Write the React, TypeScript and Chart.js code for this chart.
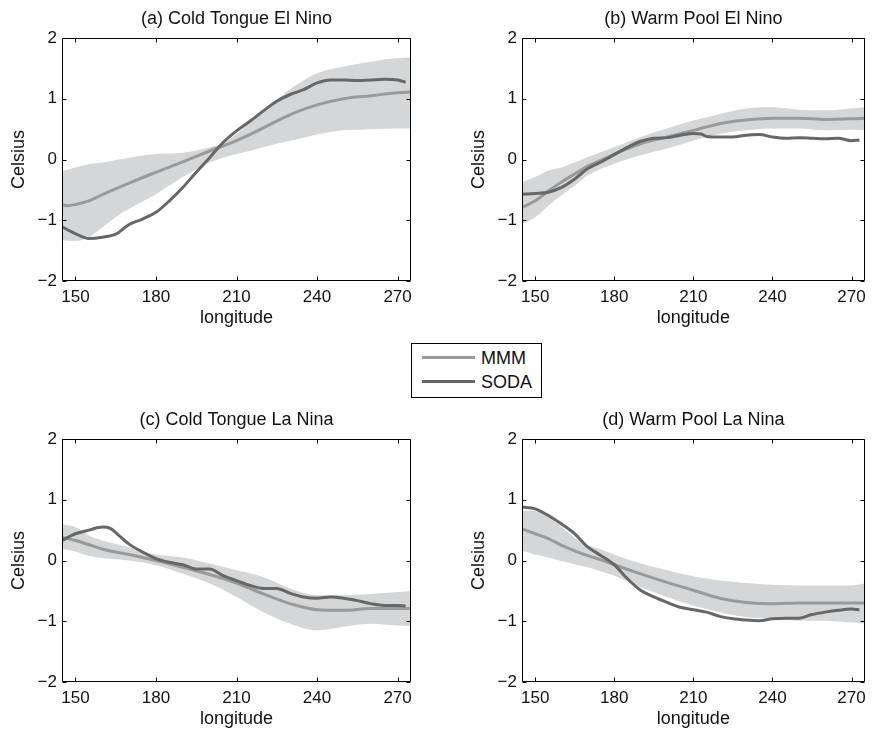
import React, { useEffect, useRef } from "react";
import { Chart, registerables } from "chart.js";

Chart.register(...registerables);

// ---- axes ----
const xTicks = [150, 180, 210, 240, 270];
const yTicks = [-2, -1, 0, 1, 2];
const X_MIN = 145;
const X_MAX = 275;
const Y_MIN = -2;
const Y_MAX = 2;

// ---- (a) Cold Tongue El Nino ----
const aMmmLon = [145, 147, 150, 155, 160, 170, 180, 190, 200, 210, 220, 230, 240, 250, 260, 270, 275];
const aMmm = [-0.74, -0.76, -0.74, -0.68, -0.58, -0.39, -0.21, -0.04, 0.14, 0.31, 0.52, 0.74, 0.9, 1.0, 1.05, 1.1, 1.11];
const aSodaLon = [145, 150, 155, 160, 165, 170, 175, 180, 185, 190, 195, 200, 205, 210, 215, 220, 225, 230, 235, 240, 245, 250, 255, 260, 265, 270, 273];
const aSoda = [-1.11, -1.22, -1.3, -1.28, -1.23, -1.07, -0.98, -0.87, -0.68, -0.46, -0.21, 0.03, 0.28, 0.47, 0.63, 0.8, 0.96, 1.07, 1.15, 1.26, 1.31, 1.31, 1.3, 1.31, 1.32, 1.31, 1.27];
const aBandLon = [145, 150, 155, 160, 165, 170, 180, 190, 200, 205, 210, 215, 220, 225, 230, 235, 240, 250, 260, 270, 275];
const aBandHi = [-0.19, -0.13, -0.08, -0.05, -0.01, 0.03, 0.09, 0.11, 0.2, 0.27, 0.42, 0.6, 0.8, 0.98, 1.16, 1.3, 1.42, 1.53, 1.61, 1.67, 1.68];
const aBandLo = [-1.33, -1.34, -1.28, -1.12, -0.95, -0.81, -0.57, -0.29, -0.05, 0.03, 0.09, 0.14, 0.2, 0.26, 0.31, 0.36, 0.41, 0.48, 0.5, 0.51, 0.51];

// ---- (b) Warm Pool El Nino ----
const bMmmLon = [145, 150, 155, 160, 165, 170, 175, 180, 190, 200, 210, 220, 230, 240, 250, 260, 270, 275];
const bMmm = [-0.79, -0.68, -0.52, -0.37, -0.24, -0.11, -0.01, 0.09, 0.26, 0.37, 0.48, 0.59, 0.65, 0.68, 0.68, 0.66, 0.67, 0.68];
const bSodaLon = [145, 150, 155, 160, 165, 170, 175, 180, 185, 190, 195, 200, 205, 210, 213, 215, 220, 225, 230, 235, 240, 245, 250, 255, 260, 265, 270, 273];
const bSoda = [-0.57, -0.56, -0.54, -0.46, -0.32, -0.15, -0.04, 0.08, 0.2, 0.3, 0.35, 0.36, 0.4, 0.43, 0.42, 0.38, 0.37, 0.37, 0.4, 0.41, 0.37, 0.35, 0.36, 0.35, 0.34, 0.35, 0.31, 0.32];
const bBandLon = [145, 150, 155, 160, 165, 170, 180, 190, 200, 210, 220, 230, 240, 250, 260, 270, 275];
const bBandHi = [-0.37, -0.29, -0.18, -0.13, -0.05, 0.04, 0.2, 0.37, 0.51, 0.64, 0.75, 0.84, 0.86, 0.82, 0.81, 0.84, 0.86];
const bBandLo = [-1.06, -0.95, -0.76, -0.59, -0.43, -0.26, -0.07, 0.07, 0.18, 0.31, 0.42, 0.48, 0.51, 0.51, 0.48, 0.49, 0.48];

// ---- (c) Cold Tongue La Nina ----
const cMmmLon = [145, 150, 155, 160, 165, 170, 175, 180, 190, 200, 210, 220, 230, 240, 250, 260, 270, 275];
const cMmm = [0.38, 0.33, 0.26, 0.19, 0.14, 0.1, 0.05, 0.0, -0.11, -0.23, -0.37, -0.55, -0.71, -0.81, -0.82, -0.79, -0.79, -0.79];
const cSodaLon = [145, 150, 155, 160, 163, 165, 170, 175, 180, 185, 190, 195, 200, 205, 210, 215, 220, 225, 230, 235, 240, 245, 250, 255, 260, 265, 270, 273];
const cSoda = [0.33, 0.44, 0.5, 0.55, 0.53, 0.46, 0.27, 0.14, 0.03, -0.03, -0.07, -0.14, -0.14, -0.25, -0.33, -0.41, -0.46, -0.46, -0.54, -0.6, -0.62, -0.6, -0.62, -0.66, -0.71, -0.74, -0.74, -0.75];
const cBandLon = [145, 150, 155, 160, 170, 180, 190, 200, 210, 220, 230, 240, 250, 260, 270, 275];
const cBandHi = [0.6, 0.55, 0.41, 0.33, 0.22, 0.1, 0.05, -0.05, -0.16, -0.27, -0.46, -0.57, -0.57, -0.55, -0.52, -0.5];
const cBandLo = [0.19, 0.15, 0.08, 0.04, 0.0, -0.08, -0.22, -0.38, -0.6, -0.85, -1.04, -1.15, -1.09, -1.04, -1.07, -1.08];

// ---- (d) Warm Pool La Nina ----
const dMmmLon = [145, 150, 155, 160, 165, 170, 175, 180, 190, 200, 210, 220, 230, 240, 250, 260, 270, 275];
const dMmm = [0.52, 0.44, 0.36, 0.25, 0.16, 0.08, 0.01, -0.07, -0.22, -0.36, -0.49, -0.62, -0.69, -0.71, -0.7, -0.7, -0.7, -0.7];
const dSodaLon = [145, 150, 155, 160, 165, 170, 175, 180, 185, 190, 195, 200, 205, 210, 215, 220, 225, 230, 235, 240, 245, 250, 255, 260, 265, 270, 273];
const dSoda = [0.88, 0.85, 0.74, 0.6, 0.44, 0.22, 0.08, -0.07, -0.3, -0.49, -0.6, -0.69, -0.77, -0.81, -0.85, -0.92, -0.96, -0.98, -0.99, -0.96, -0.95, -0.95, -0.89, -0.85, -0.82, -0.8, -0.81];
const dBandLon = [145, 150, 155, 160, 165, 170, 175, 180, 190, 200, 210, 220, 230, 240, 250, 260, 270, 275];
const dBandHi = [0.82, 0.82, 0.74, 0.55, 0.38, 0.25, 0.18, 0.1, -0.05, -0.16, -0.26, -0.33, -0.37, -0.4, -0.41, -0.41, -0.41, -0.38];
const dBandLo = [0.16, 0.1, 0.05, -0.01, -0.06, -0.11, -0.18, -0.25, -0.44, -0.6, -0.74, -0.85, -0.93, -0.96, -0.99, -0.99, -1.02, -1.04];

const seriesNames = ["MMM", "SODA"];
const panelTitles = [
  "(a) Cold Tongue El Nino",
  "(b) Warm Pool El Nino",
  "(c) Cold Tongue La Nina",
  "(d) Warm Pool La Nina",
];

const MMM_COLOR = "#9a9a9a";
const SODA_COLOR = "#676767";
const BAND_COLOR = "#d5d6d7";
const TEXT_COLOR = "#111";
const FONT = "'Liberation Sans', Arial, Helvetica, sans-serif";

const pts = (xs: number[], ys: number[]) => xs.map((x, i) => ({ x, y: ys[i] }));

const boxPlugin = {
  id: "matlabBox",
  afterDatasetsDraw(chart: any) {
    const { ctx, chartArea: a, scales } = chart;
    const l = Math.round(a.left) + 0.5;
    const r = Math.round(a.right) - 0.5;
    const t = Math.round(a.top) + 0.5;
    const b = Math.round(a.bottom) - 0.5;
    const L = 4;
    ctx.save();
    ctx.strokeStyle = "#000";
    ctx.lineWidth = 1;
    ctx.beginPath();
    ctx.rect(l, t, r - l, b - t);
    xTicks.forEach((v) => {
      const px = Math.round(scales.x.getPixelForValue(v)) + 0.5;
      ctx.moveTo(px, b);
      ctx.lineTo(px, b - L);
      ctx.moveTo(px, t);
      ctx.lineTo(px, t + L);
    });
    yTicks.forEach((v) => {
      const py = Math.round(scales.y.getPixelForValue(v)) + 0.5;
      ctx.moveTo(l, py);
      ctx.lineTo(l + L, py);
      ctx.moveTo(r, py);
      ctx.lineTo(r - L, py);
    });
    ctx.stroke();
    ctx.restore();
  },
};

type PanelProps = {
  left: number;
  top: number;
  width: number;
  padRight: number;
  title: string;
  mmmLon: number[];
  mmm: number[];
  sodaLon: number[];
  soda: number[];
  bandLon: number[];
  bandHi: number[];
  bandLo: number[];
};

const CANVAS_H = 329;
const Y_AXIS_W = 62;
const X_AXIS_H = 48;

function Panel(p: PanelProps) {
  const ref = useRef<HTMLCanvasElement | null>(null);
  useEffect(() => {
    if (!ref.current) return;
    const chart = new Chart(ref.current, {
      type: "line",
      data: {
        datasets: [
          {
            label: "band-hi",
            data: pts(p.bandLon, p.bandHi),
            borderWidth: 0,
            borderColor: "rgba(0,0,0,0)",
            backgroundColor: BAND_COLOR,
            pointRadius: 0,
            fill: "+1",
            order: 3,
            cubicInterpolationMode: "monotone",
          },
          {
            label: "band-lo",
            data: pts(p.bandLon, p.bandLo),
            borderWidth: 0,
            borderColor: "rgba(0,0,0,0)",
            pointRadius: 0,
            fill: false,
            order: 2,
            cubicInterpolationMode: "monotone",
          },
          {
            label: seriesNames[0],
            data: pts(p.mmmLon, p.mmm),
            borderColor: MMM_COLOR,
            borderWidth: 3,
            pointRadius: 0,
            fill: false,
            order: 1,
            cubicInterpolationMode: "monotone",
          },
          {
            label: seriesNames[1],
            data: pts(p.sodaLon, p.soda),
            borderColor: SODA_COLOR,
            borderWidth: 3,
            pointRadius: 0,
            fill: false,
            order: 0,
            cubicInterpolationMode: "monotone",
          },
        ],
      },
      options: {
        responsive: false,
        animation: false,
        events: [],
        layout: { padding: { left: 0, right: p.padRight, top: 0, bottom: 0 } },
        plugins: {
          legend: { display: false },
          tooltip: { enabled: false },
          filler: { drawTime: "beforeDatasetsDraw" },
          title: {
            display: true,
            text: p.title,
            fullSize: false,
            color: TEXT_COLOR,
            font: { family: FONT, size: 18, weight: "normal", lineHeight: 1.2 },
            padding: { top: 8, bottom: 8.4 },
          },
        },
        scales: {
          x: {
            type: "linear",
            min: X_MIN,
            max: X_MAX,
            grid: { display: false, drawTicks: false },
            border: { display: false },
            afterBuildTicks: (s: any) => {
              s.ticks = xTicks.map((v) => ({ value: v }));
            },
            afterFit: (s: any) => {
              s.height = X_AXIS_H;
            },
            ticks: {
              color: TEXT_COLOR,
              font: { family: FONT, size: 17 },
              padding: 6,
              maxRotation: 0,
              autoSkip: false,
            },
            title: {
              display: true,
              text: "longitude",
              color: TEXT_COLOR,
              font: { family: FONT, size: 18 },
              padding: { top: 0, bottom: 0 },
            },
          },
          y: {
            type: "linear",
            min: Y_MIN,
            max: Y_MAX,
            grid: { display: false, drawTicks: false },
            border: { display: false },
            afterBuildTicks: (s: any) => {
              s.ticks = yTicks.map((v) => ({ value: v }));
            },
            afterFit: (s: any) => {
              s.width = Y_AXIS_W;
            },
            ticks: {
              color: TEXT_COLOR,
              font: { family: FONT, size: 17 },
              padding: 5,
              callback: (v: any) => String(v).replace("-", "\u2212"),
            },
            title: {
              display: true,
              text: "Celsius",
              color: TEXT_COLOR,
              font: { family: FONT, size: 18 },
              padding: { top: 8, bottom: 0 },
            },
          },
        },
      },
      plugins: [boxPlugin],
    } as any);
    return () => chart.destroy();
  }, []);
  return (
    <canvas
      ref={ref}
      width={p.width}
      height={CANVAS_H}
      style={{ position: "absolute", left: p.left, top: p.top, width: p.width, height: CANVAS_H }}
    />
  );
}

function Legend() {
  const text: React.CSSProperties = {
    position: "absolute",
    left: 69,
    fontFamily: FONT,
    fontSize: 18,
    lineHeight: "20px",
    color: TEXT_COLOR,
    whiteSpace: "nowrap",
  };
  return (
    <div
      style={{
        position: "absolute",
        left: 411,
        top: 343,
        width: 131,
        height: 55,
        border: "1px solid #000",
        boxSizing: "border-box",
        background: "#fff",
      }}
    >
      <div style={{ position: "absolute", left: 10, top: 12, width: 53, height: 3, background: MMM_COLOR }} />
      <div style={{ ...text, top: 4 }}>{seriesNames[0]}</div>
      <div style={{ position: "absolute", left: 10, top: 36, width: 53, height: 3, background: SODA_COLOR }} />
      <div style={{ ...text, top: 28 }}>{seriesNames[1]}</div>
    </div>
  );
}

export default function App() {
  return (
    <div style={{ position: "absolute", left: 0, top: 0, width: 872, height: 730, background: "#fff", overflow: "hidden" }}>
      <Panel left={0} top={0} width={436} padRight={25} title={panelTitles[0]}
        mmmLon={aMmmLon} mmm={aMmm} sodaLon={aSodaLon} soda={aSoda}
        bandLon={aBandLon} bandHi={aBandHi} bandLo={aBandLo} />
      <Panel left={460} top={0} width={412} padRight={1} title={panelTitles[1]}
        mmmLon={bMmmLon} mmm={bMmm} sodaLon={bSodaLon} soda={bSoda}
        bandLon={bBandLon} bandHi={bBandHi} bandLo={bBandLo} />
      <Panel left={0} top={401} width={436} padRight={25} title={panelTitles[2]}
        mmmLon={cMmmLon} mmm={cMmm} sodaLon={cSodaLon} soda={cSoda}
        bandLon={cBandLon} bandHi={cBandHi} bandLo={cBandLo} />
      <Panel left={460} top={401} width={412} padRight={1} title={panelTitles[3]}
        mmmLon={dMmmLon} mmm={dMmm} sodaLon={dSodaLon} soda={dSoda}
        bandLon={dBandLon} bandHi={dBandHi} bandLo={dBandLo} />
      <Legend />
    </div>
  );
}
